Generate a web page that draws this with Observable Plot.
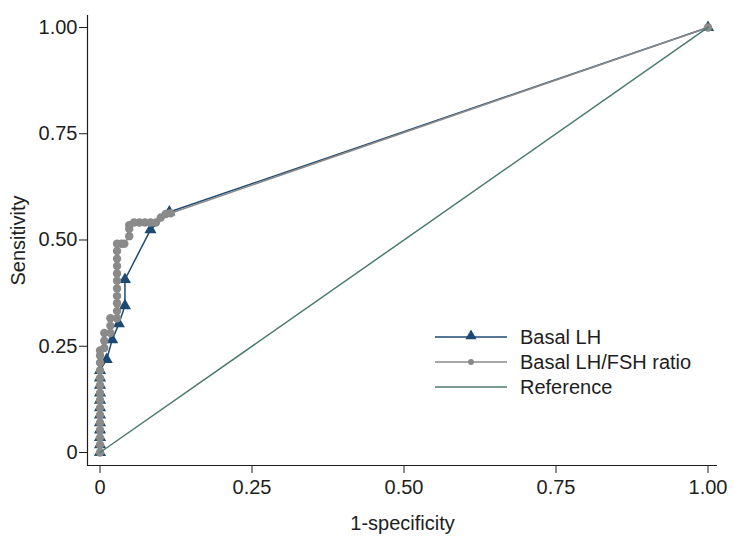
<!DOCTYPE html>
<html>
<head>
<meta charset="utf-8">
<script src="https://cdn.jsdelivr.net/npm/d3@7"></script>
<script src="https://cdn.jsdelivr.net/npm/@observablehq/plot@0.6"></script>
<style>
  html, body { margin: 0; padding: 0; background: #fff; }
  #chart { position: relative; width: 735px; height: 547px; }
  svg { font-family: "Liberation Sans", Arial, sans-serif; }
</style>
</head>
<body>
<div id="chart"></div>
<script>
// ---- Data ----
const lhX = [0, 0, 0, 0, 0, 0, 0, 0, 0, 0, 0, 0, 0.011, 0.020, 0.031, 0.041, 0.041, 0.083, 0.114, 1];
const lhY = [0, 0.018, 0.035, 0.053, 0.070, 0.088, 0.105, 0.123, 0.140, 0.158, 0.175, 0.193, 0.219, 0.265, 0.303, 0.345, 0.407, 0.524, 0.566, 1];

const ratioX = [0, 0, 0, 0, 0, 0, 0, 0, 0, 0, 0, 0, 0, 0, 0,
  0.007, 0.007, 0.007,
  0.017, 0.017, 0.017,
  0.028, 0.028, 0.028, 0.028, 0.028, 0.028, 0.028, 0.028, 0.028, 0.028, 0.028,
  0.035, 0.040,
  0.048, 0.048, 0.048,
  0.056, 0.065, 0.074, 0.083, 0.092,
  0.100, 0.108, 0.116,
  1];
const ratioY = [0, 0.018, 0.035, 0.053, 0.070, 0.088, 0.105, 0.123, 0.140, 0.158, 0.175, 0.193, 0.211, 0.228, 0.240,
  0.246, 0.263, 0.281,
  0.281, 0.298, 0.316,
  0.316, 0.333, 0.351, 0.368, 0.386, 0.404, 0.421, 0.439, 0.456, 0.474, 0.491,
  0.491, 0.491,
  0.509, 0.526, 0.535,
  0.541, 0.541, 0.541, 0.541, 0.541,
  0.553, 0.561, 0.563,
  1];

const refX = [0, 1];
const refY = [0, 1];

const xTicks = [0, 0.25, 0.5, 0.75, 1];
const yTicks = [0, 0.25, 0.5, 0.75, 1];
const tickLabel = d => d === 0 ? "0" : d.toFixed(2);

const seriesNames = ["Basal LH", "Basal LH/FSH ratio", "Reference"];
const xLabel = "1-specificity";
const yLabel = "Sensitivity";

// ---- Build tables ----
const lh = lhX.map((x, i) => ({x, y: lhY[i]}));
const ratio = ratioX.map((x, i) => ({x, y: ratioY[i]}));
const ref = refX.map((x, i) => ({x, y: refY[i]}));

const cLH = "#1d4a72";
const cRatio = "#8a8a8a";
const cRef = "#4b7b70";
const ink = "#1e1e1e";

const xDom = [-0.0206, 1.0156];
const yDom = [-0.0306, 1.0282];

const plot = Plot.plot({
  width: 735,
  height: 547,
  marginLeft: 87,
  marginRight: 18,
  marginTop: 15,
  marginBottom: 82,
  style: {fontFamily: "Liberation Sans, Arial, sans-serif", fontSize: "20px", color: ink, background: "#fff"},
  x: {domain: xDom},
  y: {domain: yDom},
  marks: [
    Plot.ruleX([xDom[0]], {stroke: ink, strokeWidth: 1.2}),
    Plot.ruleY([yDom[0]], {stroke: ink, strokeWidth: 1.2}),
    Plot.axisX({ticks: xTicks, tickFormat: tickLabel, tickSize: 8, tickPadding: 6, fontSize: 20, label: null, stroke: ink, fill: ink}),
    Plot.axisY({ticks: yTicks, tickFormat: tickLabel, tickSize: 8, tickPadding: 2, fontSize: 20, label: null, stroke: ink, fill: ink}),
    Plot.text([xLabel], {frameAnchor: "bottom", dy: 58, fontSize: 20, fill: ink, textAnchor: "middle", lineAnchor: "middle"}),
    Plot.text([yLabel], {frameAnchor: "left", dx: -69, rotate: -90, fontSize: 20, fill: ink, textAnchor: "middle", lineAnchor: "middle"}),
    // Basal LH
    Plot.line(lh, {x: "x", y: "y", stroke: cLH, strokeWidth: 1.5}),
    Plot.dot(lh, {x: "x", y: "y", symbol: "triangle", r: 4.5, fill: cLH, stroke: "none"}),
    // Basal LH/FSH ratio
    Plot.line(ratio, {x: "x", y: "y", stroke: cRatio, strokeWidth: 1.5}),
    Plot.dot(ratio, {x: "x", y: "y", r: 4.2, fill: cRatio, stroke: "none"}),
    // Reference
    Plot.line(ref, {x: "x", y: "y", stroke: cRef, strokeWidth: 1.5})
  ]
});

document.getElementById("chart").appendChild(plot);

// ---- Legend (inside plot area, lower right) ----
const svg = d3.select(plot);
const leg = svg.append("g").attr("class", "legend").attr("text-anchor", "start");
const rowsY = [337, 362, 387];
const lineX0 = 435, lineX1 = 507, markX = 471, textX = 520;
const styles = [
  {color: cLH, marker: "triangle"},
  {color: cRatio, marker: "circle"},
  {color: cRef, marker: null}
];
seriesNames.forEach((name, i) => {
  const y = rowsY[i];
  const s = styles[i];
  leg.append("line").attr("x1", lineX0).attr("x2", lineX1).attr("y1", y).attr("y2", y)
    .attr("stroke", s.color).attr("stroke-width", 1.6);
  if (s.marker === "triangle") {
    leg.append("path").attr("d", d3.symbol(d3.symbolTriangle, 55)()).attr("transform", `translate(${markX},${y - 1})`).attr("fill", s.color);
  } else if (s.marker === "circle") {
    leg.append("circle").attr("cx", markX).attr("cy", y).attr("r", 3).attr("fill", s.color);
  }
  leg.append("text").attr("x", textX).attr("y", y).attr("dy", "0.35em")
    .attr("text-anchor", "start").attr("font-size", 20).attr("fill", ink).text(name);
});
</script>
</body>
</html>
